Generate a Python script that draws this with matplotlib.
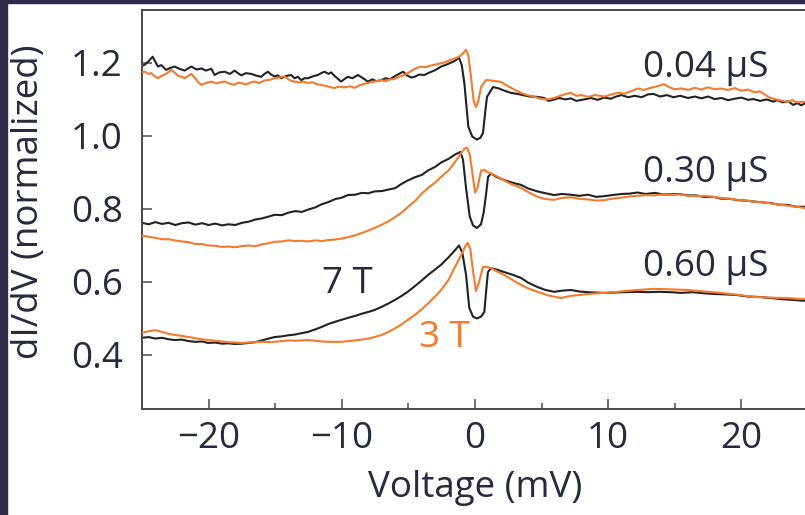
import matplotlib
matplotlib.use("Agg")
import matplotlib.pyplot as plt
from matplotlib.patches import Rectangle
from matplotlib.ticker import MultipleLocator

plt.rcParams['font.family'] = ['Open Sans', 'DejaVu Sans']

#####################################################################
# dI/dV traces, normalized, three junction conductances at 7 T and 3 T

# 0.04 uS
v_top_7T = [-25.0, -24.8, -24.5, -24.2, -24.0, -23.8, -23.55, -23.2, -22.9, -22.55, -22.2, -21.8, -21.5, -21.3,
            -20.9, -20.55, -20.2, -19.8, -19.55, -19.2, -18.8, -18.4, -18.05, -17.8, -17.55, -17.2, -16.8, -16.4,
            -16.05, -15.8, -15.55, -15.3, -15.05, -14.8, -14.55, -14.2, -13.8, -13.55, -13.3, -13.05, -12.8, -12.55,
            -12.2, -11.8, -11.55, -11.3, -11.0, -10.8, -10.5, -10.05, -9.8, -9.55, -9.2, -8.8, -8.4, -8.05, -7.7,
            -7.4, -7.05, -6.7, -6.4, -6.05, -5.7, -5.4, -5.1, -4.8, -4.55, -4.2, -3.8, -3.4, -3.0, -2.55, -2.1,
            -1.55, -1.2, -1.0, -0.8, -0.5, -0.2, 0.15, 0.4, 0.6, 0.75, 0.9, 1.35, 1.8, 2.2, 2.7, 3.2, 3.6, 4.1,
            4.7, 5.2, 5.5, 5.9, 6.3, 6.8, 7.2, 7.6, 8.2, 8.7, 9.2, 9.7, 10.2, 10.6, 11.0, 11.5, 12.0, 12.5, 13.0,
            13.4, 13.9, 14.4, 14.9, 15.4, 16.0, 16.5, 17.0, 17.5, 18.0, 18.5, 19.0, 19.5, 20.0, 20.5, 20.9, 21.4,
            21.9, 22.4, 22.7, 23.1, 23.5, 23.9, 24.2, 24.5, 24.8, 25.0]
g_top_7T = [1.192, 1.195, 1.205, 1.217, 1.203, 1.190, 1.194, 1.181, 1.186, 1.190, 1.184, 1.179, 1.186, 1.190,
            1.182, 1.185, 1.179, 1.184, 1.167, 1.174, 1.176, 1.170, 1.179, 1.172, 1.166, 1.172, 1.170, 1.165,
            1.162, 1.170, 1.176, 1.168, 1.163, 1.166, 1.158, 1.164, 1.167, 1.158, 1.162, 1.153, 1.158, 1.158,
            1.163, 1.167, 1.172, 1.176, 1.170, 1.174, 1.163, 1.149, 1.156, 1.162, 1.158, 1.167, 1.158, 1.149, 1.155,
            1.150, 1.153, 1.158, 1.155, 1.163, 1.170, 1.176, 1.166, 1.160, 1.162, 1.168, 1.167, 1.174, 1.180, 1.190, 1.196,
            1.205, 1.214, 1.195, 1.145, 1.025, 0.998, 0.990, 0.995, 1.008, 1.060, 1.107, 1.134, 1.130, 1.124, 1.118, 1.115, 1.112, 1.108,
            1.107, 1.104, 1.096, 1.099, 1.104, 1.100, 1.103, 1.096, 1.100, 1.104, 1.099, 1.105, 1.102, 1.108, 1.112, 1.106, 1.110, 1.106, 1.114,
            1.115, 1.108, 1.112, 1.106, 1.110, 1.104, 1.108, 1.103, 1.108, 1.101, 1.104, 1.098, 1.102, 1.105, 1.099, 1.101, 1.096,
            1.100, 1.094, 1.098, 1.092, 1.095, 1.085, 1.090, 1.084, 1.090, 1.087]

v_top_3T = [-25.0, -24.8, -24.5, -24.3, -24.0, -23.8, -23.5, -23.3, -23.0, -22.8, -22.5, -22.3, -22.0, -21.8,
            -21.5, -21.3, -21.0, -20.8, -20.55, -20.2, -19.8, -19.4, -19.0, -18.8, -18.4, -18.05, -17.8, -17.55,
            -17.2, -16.8, -16.55, -16.2, -15.8, -15.55, -15.3, -15.05, -14.7, -14.3, -14.0, -13.8, -13.55, -13.2,
            -12.9, -12.55, -12.2, -11.9, -11.55, -11.2, -10.8, -10.55, -10.2, -9.8, -9.4, -9.05, -8.7, -8.4, -8.05,
            -7.7, -7.4, -7.05, -6.7, -6.4, -6.05, -5.7, -5.4, -5.05, -4.7, -4.4, -4.05, -3.7, -3.4, -3.05, -2.7,
            -2.4, -2.05, -1.7, -1.3, -1.0, -0.68, -0.5, -0.3, -0.1, 0.07, 0.25, 0.45, 0.83, 1.2, 1.6, 1.95, 2.4,
            2.9, 3.45, 3.9, 4.4, 4.9, 5.4, 5.95, 6.4, 6.8, 7.2, 7.6, 8.0, 8.5, 9.0, 9.7, 10.2, 10.7, 11.2, 11.7,
            12.2, 12.7, 13.2, 13.7, 14.2, 14.6, 15.0, 15.5, 16.0, 16.5, 17.0, 17.5, 18.0, 18.45, 19.0, 19.5, 20.0,
            20.5, 20.95, 21.4, 21.8, 22.2, 22.6, 23.0, 23.45, 23.8, 24.2, 24.6, 25.0]
g_top_3T = [1.174, 1.176, 1.170, 1.172, 1.162, 1.158, 1.165, 1.168, 1.175, 1.181, 1.172, 1.165, 1.162, 1.158,
            1.165, 1.170, 1.158, 1.148, 1.140, 1.145, 1.149, 1.144, 1.148, 1.149, 1.143, 1.140, 1.146, 1.145,
            1.141, 1.147, 1.149, 1.145, 1.152, 1.153, 1.155, 1.158, 1.160, 1.163, 1.155, 1.151, 1.149, 1.146,
            1.149, 1.145, 1.147, 1.142, 1.140, 1.137, 1.133, 1.131, 1.135, 1.133, 1.136, 1.132, 1.138, 1.142, 1.145,
            1.148, 1.150, 1.153, 1.150, 1.155, 1.156, 1.162, 1.166, 1.172, 1.180, 1.186, 1.190, 1.188, 1.192, 1.195, 1.198,
            1.200, 1.205, 1.210, 1.215, 1.222, 1.236, 1.220, 1.162, 1.095, 1.079, 1.095, 1.134, 1.153, 1.152, 1.150, 1.148, 1.138,
            1.128, 1.118, 1.112, 1.108, 1.102, 1.100, 1.104, 1.110, 1.115, 1.118, 1.110, 1.112, 1.107, 1.112, 1.108, 1.113, 1.118, 1.116, 1.122,
            1.130, 1.126, 1.132, 1.136, 1.142, 1.133, 1.128, 1.130, 1.126, 1.132, 1.127, 1.133, 1.128, 1.130, 1.126, 1.131, 1.124,
            1.127, 1.120, 1.122, 1.112, 1.104, 1.100, 1.097, 1.093, 1.098, 1.092, 1.094, 1.090]

# 0.30 uS
v_mid_7T = [-25.0, -24.5, -24.0, -23.5, -23.0, -22.5, -22.0, -21.5, -21.0, -20.5, -20.0, -19.5, -19.0, -18.5,
            -18.0, -17.5, -17.0, -16.5, -16.0, -15.5, -15.05, -14.5, -14.0, -13.5, -13.0, -12.55, -12.0, -11.5,
            -11.0, -10.5, -10.0, -9.55, -9.0, -8.5, -8.0, -7.55, -7.0, -6.5, -6.0, -5.5, -5.05, -4.5, -4.0, -3.5,
            -3.0, -2.55, -2.0, -1.5, -1.1, -0.9, -0.68, -0.4, -0.15, 0.15, 0.45, 0.65, 0.83, 0.98, 1.2, 1.6, 2.2,
            2.8, 3.45, 4.0, 4.7, 5.3, 5.95, 6.5, 7.2, 7.8, 8.5, 9.1, 9.7, 10.3, 11.0, 11.6, 12.2, 12.8, 13.5, 14.1,
            14.7, 15.3, 16.0, 16.6, 17.2, 17.9, 18.5, 19.1, 19.7, 20.3, 21.0, 21.6, 22.2, 22.8, 23.5, 24.1, 24.7, 25.0]
g_mid_7T = [0.762, 0.758, 0.764, 0.759, 0.762, 0.756, 0.761, 0.763, 0.757, 0.761, 0.756, 0.760, 0.755, 0.758,
            0.756, 0.762, 0.765, 0.771, 0.774, 0.779, 0.784, 0.783, 0.790, 0.794, 0.792, 0.798, 0.804, 0.813,
            0.819, 0.827, 0.831, 0.838, 0.839, 0.844, 0.843, 0.848, 0.849, 0.853, 0.857, 0.869, 0.878, 0.887, 0.893, 0.906,
            0.915, 0.927, 0.937, 0.949, 0.956, 0.935, 0.860, 0.780, 0.755, 0.748, 0.758, 0.790, 0.840, 0.888, 0.897, 0.888, 0.879,
            0.872, 0.866, 0.856, 0.848, 0.843, 0.838, 0.841, 0.839, 0.836, 0.839, 0.833, 0.835, 0.838, 0.841, 0.842, 0.845, 0.841, 0.844, 0.840,
            0.840, 0.841, 0.837, 0.837, 0.833, 0.833, 0.828, 0.828, 0.824, 0.823, 0.820, 0.818, 0.816, 0.812, 0.811, 0.806, 0.806, 0.804]

v_mid_3T = [-25.0, -24.5, -24.0, -23.5, -23.0, -22.55, -22.0, -21.5, -21.0, -20.5, -20.05, -19.5, -19.0, -18.5,
            -18.0, -17.55, -17.0, -16.5, -16.0, -15.5, -15.05, -14.5, -14.0, -13.5, -13.0, -12.55, -12.0, -11.5,
            -11.0, -10.5, -10.0, -9.5, -9.0, -8.5, -8.0, -7.55, -7.0, -6.5, -6.0, -5.5, -5.05, -4.5, -4.0, -3.5,
            -3.0, -2.55, -2.0, -1.55, -1.1, -0.8, -0.6, -0.4, -0.2, 0.0, 0.2, 0.45, 0.7, 1.0, 1.45, 2.0, 2.6, 3.45,
            4.0, 4.7, 5.3, 5.95, 6.5, 7.2, 7.8, 8.5, 9.1, 9.7, 10.3, 11.0, 11.6, 12.2, 12.8, 13.5, 14.1, 14.7, 15.3,
            16.0, 16.6, 17.2, 17.9, 18.5, 19.1, 19.7, 20.3, 21.0, 21.6, 22.2, 22.8, 23.5, 24.1, 24.7, 25.0]
g_mid_3T = [0.727, 0.724, 0.721, 0.717, 0.717, 0.714, 0.711, 0.709, 0.704, 0.704, 0.700, 0.699, 0.696, 0.697,
            0.695, 0.698, 0.700, 0.698, 0.703, 0.706, 0.710, 0.711, 0.714, 0.712, 0.713, 0.711, 0.714, 0.712,
            0.715, 0.716, 0.719, 0.723, 0.728, 0.734, 0.741, 0.748, 0.757, 0.766, 0.778, 0.790, 0.805, 0.822, 0.842, 0.858,
            0.872, 0.888, 0.905, 0.926, 0.950, 0.965, 0.968, 0.950, 0.900, 0.845, 0.860, 0.905, 0.907, 0.900, 0.893, 0.882, 0.870, 0.858,
            0.846, 0.833, 0.827, 0.825, 0.830, 0.832, 0.828, 0.826, 0.823, 0.824, 0.828, 0.831, 0.834, 0.836, 0.838, 0.837, 0.840, 0.838, 0.840,
            0.836, 0.835, 0.836, 0.833, 0.830, 0.828, 0.825, 0.823, 0.820, 0.818, 0.815, 0.812, 0.809, 0.806, 0.803, 0.801]

# 0.60 uS
v_low_7T = [-25.0, -24.5, -24.0, -23.5, -23.0, -22.55, -22.0, -21.5, -21.0, -20.5, -20.05, -19.5, -19.0, -18.5,
            -18.05, -17.5, -17.0, -16.5, -16.0, -15.5, -15.05, -14.5, -14.0, -13.5, -13.0, -12.55, -12.0, -11.5,
            -11.0, -10.5, -10.05, -9.5, -9.0, -8.5, -8.0, -7.55, -7.0, -6.5, -6.0, -5.5, -5.05, -4.5, -4.0, -3.5,
            -3.0, -2.55, -2.0, -1.6, -1.2, -0.95, -0.67, -0.43, -0.15, 0.15, 0.45, 0.7, 0.85, 0.97, 1.2, 1.7, 2.2,
            2.8, 3.45, 4.0, 4.7, 5.3, 5.95, 6.5, 7.2, 7.8, 8.5, 9.1, 9.7, 10.5, 11.2, 12.2, 13.0, 13.8, 14.7, 15.5,
            16.3, 17.2, 18.0, 18.8, 19.7, 20.5, 21.3, 22.2, 23.0, 23.8, 24.5, 25.0]
g_low_7T = [0.447, 0.449, 0.445, 0.447, 0.443, 0.441, 0.442, 0.438, 0.436, 0.437, 0.433, 0.434, 0.431, 0.432,
            0.430, 0.431, 0.433, 0.435, 0.440, 0.445, 0.449, 0.451, 0.454, 0.456, 0.460, 0.463, 0.470, 0.477,
            0.485, 0.491, 0.496, 0.502, 0.507, 0.513, 0.518, 0.523, 0.532, 0.541, 0.551, 0.562, 0.573, 0.589, 0.604, 0.620,
            0.634, 0.647, 0.667, 0.683, 0.700, 0.680, 0.619, 0.529, 0.505, 0.500, 0.505, 0.518, 0.580, 0.627, 0.638, 0.633, 0.627,
            0.620, 0.611, 0.598, 0.586, 0.578, 0.573, 0.576, 0.578, 0.574, 0.572, 0.571, 0.570, 0.571, 0.572, 0.573, 0.572, 0.573, 0.572, 0.570,
            0.572, 0.569, 0.567, 0.566, 0.564, 0.560, 0.559, 0.556, 0.553, 0.551, 0.549, 0.548]

v_low_3T = [-25.0, -24.5, -24.0, -23.5, -23.0, -22.55, -22.0, -21.5, -21.0, -20.5, -20.05, -19.5, -19.0, -18.5,
            -18.0, -17.55, -17.0, -16.5, -16.0, -15.5, -15.05, -14.5, -14.0, -13.5, -13.0, -12.55, -12.0, -11.5,
            -11.0, -10.5, -10.05, -9.5, -9.0, -8.5, -8.0, -7.55, -7.0, -6.5, -6.0, -5.5, -5.05, -4.5, -4.0, -3.5,
            -3.0, -2.55, -2.0, -1.55, -1.2, -0.93, -0.7, -0.55, -0.35, -0.15, 0.07, 0.3, 0.6, 0.9, 1.2, 1.7, 2.2,
            2.8, 3.45, 4.0, 4.7, 5.5, 6.45, 7.2, 8.0, 8.8, 9.7, 10.5, 11.2, 12.2, 13.4, 14.5, 15.95, 17.2, 18.45,
            19.7, 20.95, 22.2, 23.45, 24.2, 25.0]
g_low_3T = [0.461, 0.465, 0.468, 0.463, 0.458, 0.455, 0.452, 0.449, 0.446, 0.443, 0.441, 0.439, 0.437, 0.435,
            0.434, 0.433, 0.434, 0.435, 0.436, 0.435, 0.436, 0.438, 0.440, 0.439, 0.440, 0.441, 0.439, 0.437,
            0.436, 0.436, 0.436, 0.438, 0.440, 0.442, 0.445, 0.449, 0.455, 0.463, 0.473, 0.484, 0.496, 0.510, 0.525, 0.542,
            0.560, 0.578, 0.605, 0.638, 0.662, 0.682, 0.700, 0.707, 0.690, 0.630, 0.575, 0.600, 0.641, 0.641, 0.638, 0.628, 0.619,
            0.606, 0.592, 0.582, 0.573, 0.563, 0.556, 0.562, 0.565, 0.568, 0.570, 0.572, 0.575, 0.578, 0.581, 0.580, 0.578, 0.574, 0.570,
            0.565, 0.559, 0.557, 0.556, 0.554, 0.553]

conductances = ["0.04 \u03bcS", "0.30 \u03bcS", "0.60 \u03bcS"]
field_labels = ["7 T", "3 T"]

#####################################################################
BLACK = "#222222"
ORANGE = "#f47a2c"
TEXT = "#262a40"
FS = 26.5

fig = plt.figure(figsize=(8.05, 5.15), dpi=100)
ax = fig.add_axes([142 / 805, 1 - 409 / 515, 666 / 805, 399 / 515])

pairs = [(v_top_7T, g_top_7T, v_top_3T, g_top_3T),
         (v_mid_7T, g_mid_7T, v_mid_3T, g_mid_3T),
         (v_low_7T, g_low_7T, v_low_3T, g_low_3T)]
for v7, g7, v3, g3 in pairs:
    ax.plot(v7, g7, color=BLACK, lw=1.5, zorder=2)
    ax.plot(v3, g3, color=ORANGE, lw=1.5, zorder=3)

ax.set_xlim(-25, 25)
ax.set_ylim(0.252, 1.345)
ax.xaxis.set_minor_locator(MultipleLocator(5))
ax.set_xticks([-20, -10, 0, 10, 20])
ax.set_xticklabels(["\u221220", "\u221210", "0", "10", "20"])
ax.set_yticks([0.4, 0.6, 0.8, 1.0, 1.2])
ax.set_yticklabels(["0.4", "0.6", "0.8", "1.0", "1.2"])

ax.tick_params(which="both", direction="in", color="#4a4a4a", width=1.1,
               labelsize=FS, labelcolor=TEXT, top=False, right=False)
ax.tick_params(which="major", length=7.5)
ax.tick_params(which="minor", length=4.5)
ax.tick_params(axis="x", pad=9)
ax.tick_params(axis="y", pad=14)
for s in ax.spines.values():
    s.set_color("#4a4a4a")
    s.set_linewidth(1.4)

ax.set_xlabel("Voltage (mV)", fontsize=FS, color=TEXT)
ax.xaxis.set_label_coords(0.5, -0.153)
ax.set_ylabel("dI/dV (normalized)", fontsize=FS, color=TEXT)
ax.yaxis.set_label_coords(-0.143, 0.52)

# conductance labels, right aligned above each pair
for lab, ybase in zip(conductances, [1.162, 0.875, 0.615]):
    ax.text(22.05, ybase, lab, ha="right", va="baseline", fontsize=FS, color=TEXT)

ax.text(-11.5, 0.57, field_labels[0], ha="left", va="baseline", fontsize=FS, color=TEXT)
ax.text(-4.2, 0.422, field_labels[1], ha="left", va="baseline", fontsize=FS, color=ORANGE)

# dark frame along left and top edges
fig.patches.append(Rectangle((0, 0), 7 / 805, 1, transform=fig.transFigure,
                             color="#2e2b4a", zorder=10))
fig.patches.append(Rectangle((0, 1 - 3 / 515), 1, 3 / 515, transform=fig.transFigure,
                             color="#2e2b4a", zorder=10))

fig.savefig("out.png", dpi=100)
